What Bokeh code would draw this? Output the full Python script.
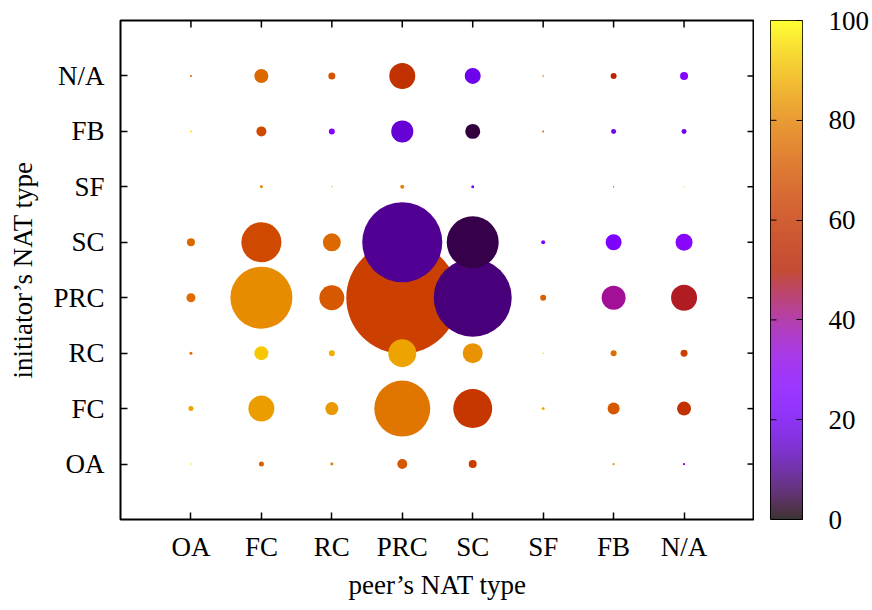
import math
import numpy as np
from bokeh.plotting import figure
from bokeh.models import ColumnDataSource, LinearColorMapper, FixedTicker, Range1d
from bokeh.transform import transform
from bokeh.layouts import row
from bokeh.embed import file_html
from bokeh.resources import INLINE

# ---------------- data ----------------
nat_types = ["OA", "FC", "RC", "PRC", "SC", "SF", "FB", "N/A"]

# share of connections (%) per (initiator row, peer column); bubble area ~ share
share_pct = [
    # OA     FC     RC     PRC    SC     SF     FB     N/A      <- peer
    [0.004, 0.050, 0.018, 0.199, 0.128, 0.0,   0.011, 0.011],  # OA initiator
    [0.050, 1.347, 0.337, 6.250, 3.030, 0.018, 0.287, 0.391],  # FC
    [0.018, 0.391, 0.072, 1.563, 0.797, 0.005, 0.072, 0.098],  # RC
    [0.161, 7.660, 1.246, 25.00, 12.13, 0.072, 1.148, 1.347],  # PRC
    [0.128, 3.190, 0.646, 12.76, 5.390, 0.032, 0.510, 0.576],  # SC
    [0.0,   0.018, 0.004, 0.032, 0.018, 0.0,   0.004, 0.002],  # SF
    [0.008, 0.199, 0.072, 0.965, 0.448, 0.008, 0.050, 0.050],  # FB
    [0.008, 0.391, 0.098, 1.347, 0.510, 0.005, 0.072, 0.128],  # N/A
]

# colour value (0-100) per cell
success_pct = [
    [95, 72, 78, 70, 62, 0, 85, 27],
    [86, 85, 84, 77, 60, 88, 70, 58],
    [75, 92, 88, 86, 83, 95, 75, 63],
    [75, 82, 70, 63, 8, 72, 40, 48],
    [74, 66, 74, 10, 5, 25, 24, 28],
    [0, 80, 90, 80, 25, 0, 55, 90],
    [95, 66, 25, 16, 4, 75, 20, 20],
    [72, 74, 69, 58, 19, 75, 52, 27],
]

cb_ticks = [0, 20, 40, 60, 80, 100]

# ---------------- styling ----------------
FONT = "Liberation Serif"
FS = "27px"
RADIUS_SCALE = 0.159  # data units per sqrt(%)


def gnuplot_color(t):
    r = math.sqrt(t)
    g = t ** 3
    b = max(math.sin(2 * math.pi * t), 0.0)
    return "#%02x%02x%02x" % (round(r * 255), round(g * 255), round(b * 255))


palette = [gnuplot_color(i / 255) for i in range(256)]
mapper = LinearColorMapper(palette=palette, low=0, high=100)

xs, ys, rs, vs = [], [], [], []
for i in range(len(nat_types)):
    for j in range(len(nat_types)):
        s = share_pct[i][j]
        if s > 0:
            xs.append(j + 1)
            ys.append(i + 1)
            rs.append(RADIUS_SCALE * math.sqrt(s))
            vs.append(success_pct[i][j])
order = sorted(range(len(rs)), key=lambda k: -rs[k])
source = ColumnDataSource(dict(
    x=[xs[k] for k in order],
    y=[ys[k] for k in order],
    r=[rs[k] for k in order],
    v=[vs[k] for k in order],
))

n = len(nat_types)
p = figure(frame_width=634, frame_height=499,
           x_range=Range1d(0, n + 1), y_range=Range1d(0, n + 1),
           output_backend="svg", toolbar_location=None,
           min_border_left=120, min_border_top=20, min_border_right=0, min_border_bottom=83,
           background_fill_color="white", border_fill_color="white")
p.grid.visible = False
p.outline_line_color = "black"
p.outline_line_width = 2

p.circle(x="x", y="y", radius="r", source=source,
         fill_color=transform("v", mapper), line_color=None)

tick_pos = list(range(1, n + 1))
labels = {k + 1: t for k, t in enumerate(nat_types)}
for ax in (p.xaxis[0], p.yaxis[0]):
    ax.ticker = FixedTicker(ticks=tick_pos, minor_ticks=[])
    ax.major_label_overrides = labels
    ax.major_tick_in = 7
    ax.major_tick_out = 0
    ax.major_tick_line_width = 1.5
    ax.axis_line_color = None
    ax.major_label_text_font = FONT
    ax.major_label_text_font_size = FS
    ax.major_label_text_color = "black"
    ax.axis_label_text_font = FONT
    ax.axis_label_text_font_size = FS
    ax.axis_label_text_font_style = "normal"
    ax.axis_label_text_color = "black"
p.xaxis.axis_label = "peer\u2019s NAT type"
p.yaxis.axis_label = "initiator\u2019s NAT type"
p.xaxis.major_label_standoff = 12
p.xaxis.axis_label_standoff = 5
p.yaxis.major_label_standoff = 16
p.yaxis.axis_label_standoff = 12

# mirrored ticks on top and right borders (gnuplot style)
p.ray(x=tick_pos, y=[p.y_range.end] * n, length=7, angle=-math.pi / 2,
      length_units="screen", line_color="black", line_width=1.5)
p.ray(x=[p.x_range.end] * n, y=tick_pos, length=7, angle=math.pi,
      length_units="screen", line_color="black", line_width=1.5)

# ---------------- colour bar ----------------
cb = figure(frame_width=32, frame_height=499,
            x_range=Range1d(0, 1), y_range=Range1d(cb_ticks[0], cb_ticks[-1]),
            output_backend="svg", toolbar_location=None,
            x_axis_location=None, y_axis_location="right",
            min_border_left=16, min_border_right=60, min_border_top=20, min_border_bottom=83,
            background_fill_color="white", border_fill_color="white")
cb.grid.visible = False
cb.outline_line_color = "black"
cb.outline_line_width = 1
grad = np.linspace(cb_ticks[0], cb_ticks[-1], 256).reshape(256, 1)
cb.image(image=[grad], x=0, y=cb_ticks[0], dw=1, dh=cb_ticks[-1] - cb_ticks[0],
         color_mapper=mapper, global_alpha=0.8)
ya = cb.yaxis[0]
ya.ticker = FixedTicker(ticks=cb_ticks, minor_ticks=[])
ya.major_tick_in = 6
ya.major_tick_out = 0
ya.axis_line_color = None
ya.major_label_standoff = 26
ya.major_label_text_font = FONT
ya.major_label_text_font_size = FS
ya.major_label_text_color = "black"
inner = cb_ticks[1:-1]
cb.ray(x=[0] * len(inner), y=inner, length=6, angle=0,
       length_units="screen", line_color="black", line_width=1)

layout = row(p, cb)
open("out.html", "w").write(file_html(layout, INLINE))
